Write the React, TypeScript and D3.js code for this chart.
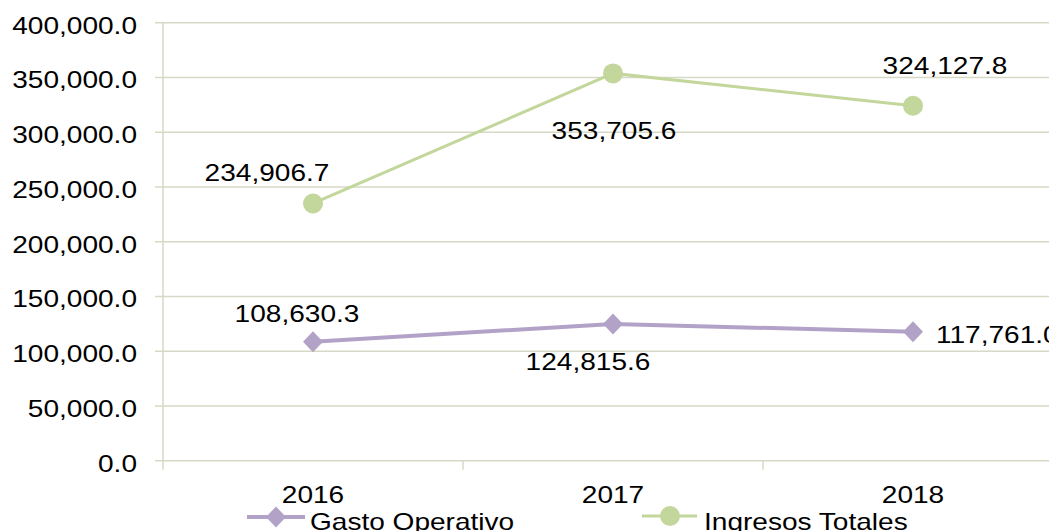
import React from "react";
import * as d3 from "d3";

const categories = ["2016", "2017", "2018"];
const gastoOperativo = [108630.3, 124815.6, 117761.0];
const ingresosTotales = [234906.7, 353705.6, 324127.8];
const yTicks = [0, 50000, 100000, 150000, 200000, 250000, 300000, 350000, 400000];
const seriesNames = ["Gasto Operativo", "Ingresos Totales"];

const W = 1049, H = 531;
const PURPLE = "#b3a2c7";
const GREEN = "#c3d69b";
const GRID = "#d6d9c6";
const FONT = "'Liberation Sans', Arial, sans-serif";
const FS = 23;
const SX = 1.22;

// label offsets relative to point (layout)
const gastoLabelOff = [[-16, -20], [-25, 46], [23, 11]];
const ingresosLabelOff = [[-46, -22], [1, 66], [32, -32]];

function T({ x, y, anchor = "middle", children }: any) {
  return (
    <text
      transform={`translate(${x},${y}) scale(${SX},1)`}
      textAnchor={anchor}
      fontFamily={FONT}
      fontSize={FS}
      fill="#000"
    >
      {children}
    </text>
  );
}

const DIAMOND = "M0,-10.5L10,0L0,10.5L-10,0Z";

export default function App() {
  const x0 = 163, bandW = 300;
  const xBand = d3.scaleBand().domain(categories).range([x0, x0 + bandW * 3]);
  const y = d3.scaleLinear().domain([0, 400000]).range([460.7, 22.7]);
  const cx = (c: string) => (xBand(c) as number) + xBand.bandwidth() / 2;
  const line = d3.line<number>().x((_, i) => cx(categories[i])).y((v) => y(v));
  const fmt = d3.format(",.1f");

  return (
    <svg width={W} height={H} style={{ position: "absolute", left: 0, top: 0, background: "#fff" }}>
      {yTicks.map((t) => (
        <g key={t}>
          <line x1={155} x2={W} y1={y(t)} y2={y(t)} stroke={GRID} strokeWidth={1.5} />
          <T x={137} y={y(t) + 10.8} anchor="end">{fmt(t)}</T>
        </g>
      ))}
      <line x1={x0} x2={x0} y1={y(400000)} y2={y(0) + 9} stroke={GRID} strokeWidth={1.5} />
      {[1, 2, 3].map((i) => (
        <line key={i} x1={x0 + bandW * i} x2={x0 + bandW * i} y1={y(0)} y2={y(0) + 9} stroke={GRID} strokeWidth={1.5} />
      ))}
      {categories.map((c) => (
        <T key={c} x={cx(c)} y={503}>{c}</T>
      ))}

      <path d={line(ingresosTotales) as string} fill="none" stroke={GREEN} strokeWidth={3} />
      {ingresosTotales.map((v, i) => (
        <circle key={i} cx={cx(categories[i])} cy={y(v)} r={10} fill={GREEN} />
      ))}
      <path d={line(gastoOperativo) as string} fill="none" stroke={PURPLE} strokeWidth={4} />
      {gastoOperativo.map((v, i) => (
        <path key={i} d={DIAMOND} transform={`translate(${cx(categories[i])},${y(v)})`} fill={PURPLE} />
      ))}

      {ingresosTotales.map((v, i) => (
        <T key={i} x={cx(categories[i]) + ingresosLabelOff[i][0]} y={y(v) + ingresosLabelOff[i][1]}
          anchor={"middle"}>{fmt(v)}</T>
      ))}
      {gastoOperativo.map((v, i) => (
        <T key={i} x={cx(categories[i]) + gastoLabelOff[i][0]} y={y(v) + gastoLabelOff[i][1]}
          anchor={i === 2 ? "start" : "middle"}>{fmt(v)}</T>
      ))}

      {/* legend */}
      <g>
        <line x1={247} x2={305} y1={517} y2={517} stroke={PURPLE} strokeWidth={4} />
        <path d={DIAMOND} transform={`translate(276,517)`} fill={PURPLE} />
        <T x={310} y={530} anchor="start">{seriesNames[0]}</T>
        <line x1={642} x2={697} y1={516} y2={516} stroke={GREEN} strokeWidth={3} />
        <circle cx={670} cy={516} r={10} fill={GREEN} />
        <T x={704} y={530} anchor="start">{seriesNames[1]}</T>
      </g>
    </svg>
  );
}
